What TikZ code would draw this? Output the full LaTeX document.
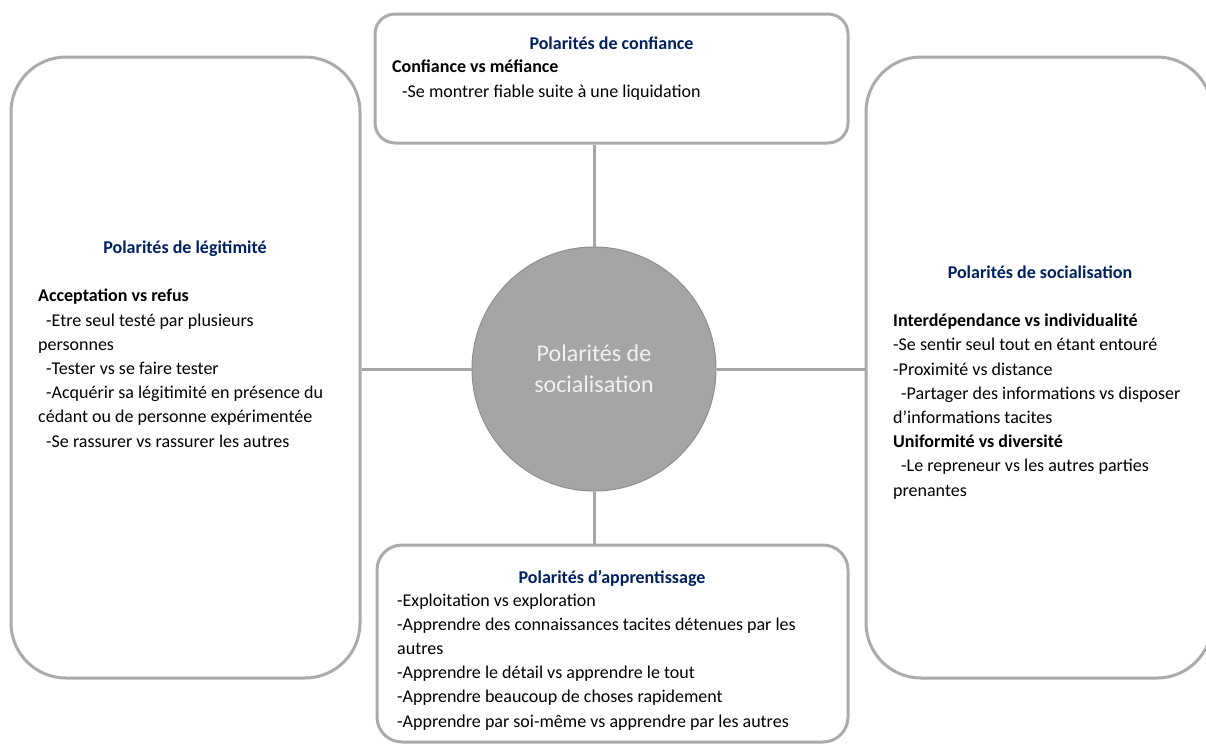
\documentclass[tikz,border=0pt]{standalone}
\usepackage{fontspec}
\setmainfont{Carlito}
\usetikzlibrary{positioning}

\definecolor{boxgray}{HTML}{ABABAB}
\definecolor{linkgray}{HTML}{A6A6A6}
\definecolor{hubgray}{HTML}{A5A5A5}
\definecolor{hubedge}{HTML}{8E8E8E}
\definecolor{hubtext}{HTML}{F2F2F2}
\definecolor{titleblue}{HTML}{002060}

\begin{document}
\begin{tikzpicture}[%
  x = 1pt, y = -1pt,
  pole/.style   = {rectangle, draw=boxgray, line width=3pt, fill=white,
                   inner sep=0pt},
  hub/.style    = {circle, draw=hubedge, line width=1pt, fill=hubgray,
                   minimum size=244pt, inner sep=0pt, align=center,
                   text=hubtext, font=\fontsize{24}{31}\selectfont},
  ptitle/.style = {anchor=base, inner sep=0pt, text=titleblue,
                   font=\fontsize{18}{24}\selectfont\bfseries},
  % base of a multi-line node = baseline of its last line
  pbody/.style  = {anchor=base west, inner sep=0pt, align=left,
                   font=\fontsize{18}{24.2}\selectfont},
  link/.style   = {draw=linkgray, line width=3pt}
]

  \useasboundingbox (0,0) rectangle (1206,745);

  % central circle
  \node[hub] (hub) at (594,369) {Polarités de\\socialisation};

  % the four poles
  \node[pole, rounded corners=20pt, minimum width=473pt, minimum height=129pt]
       (conf) at (611.5,78.5) {};
  \node[pole, rounded corners=55pt, minimum width=349pt, minimum height=621pt]
       (leg) at (185.5,367.5) {};
  \node[pole, rounded corners=55pt, minimum width=346pt, minimum height=621pt]
       (soc) at (1039,367.5) {};
  \node[pole, rounded corners=25pt, minimum width=471pt, minimum height=197pt]
       (app) at (612.5,643.5) {};

  % connections
  \draw[link] (conf.south -| hub.north) -- (hub.north);
  \draw[link] (hub.south) -- (hub.south |- app.north);
  \draw[link] (leg.east |- hub.west) -- (hub.west);
  \draw[link] (hub.east) -- (hub.east -| soc.west);

  % titles
  \node[ptitle] (conft) at (611.5,49)  {Polarités de confiance};
  \node[ptitle] (legt)  at (185,253)   {Polarités de légitimité};
  \node[ptitle] (soct)  at (1040,278)  {Polarités de socialisation};
  \node[ptitle] (appt)  at (612,583)   {Polarités d’apprentissage};

  % texts
  \node[pbody] (confb) at (392,97) {%
    \textbf{Confiance vs méfiance}\\
    \hspace*{10pt}-Se montrer fiable suite à une liquidation};

  \node[pbody] (legb) at (38,447) {%
    \textbf{Acceptation vs refus}\\
    \hspace*{8pt}-Etre seul testé par plusieurs\\
    personnes\\
    \hspace*{8pt}-Tester vs se faire tester\\
    \hspace*{8pt}-Acquérir sa légitimité en présence du\\
    cédant ou de personne expérimentée\\
    \hspace*{8pt}-Se rassurer vs rassurer les autres};

  \node[pbody] (socb) at (893,496) {%
    \textbf{Interdépendance vs individualité}\\
    -Se sentir seul tout en étant entouré\\
    -Proximité vs distance\\
    \hspace*{8pt}-Partager des informations vs disposer\\
    d’informations tacites\\
    \textbf{Uniformité vs diversité}\\
    \hspace*{8pt}-Le repreneur vs les autres parties\\
    prenantes};

  \node[pbody] (appb) at (397,727) {%
    -Exploitation vs exploration\\
    -Apprendre des connaissances tacites détenues par les\\
    autres\\
    -Apprendre le détail vs apprendre le tout\\
    -Apprendre beaucoup de choses rapidement\\
    -Apprendre par soi-même vs apprendre par les autres};

\end{tikzpicture}
\end{document}
